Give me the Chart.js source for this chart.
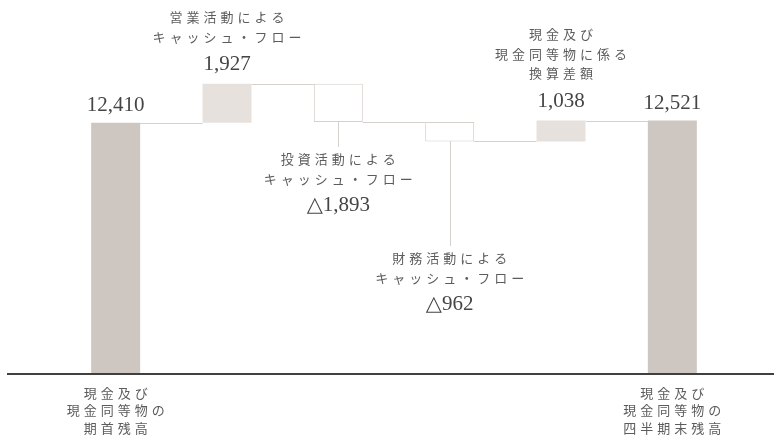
<!DOCTYPE html>
<html lang="ja">
<head>
<meta charset="utf-8">
<title>キャッシュ・フロー</title>
<script src="https://cdn.jsdelivr.net/npm/chart.js@4.4.1/dist/chart.umd.min.js"></script>
<style>
  html, body { margin: 0; padding: 0; background: #fff; }
  #wrap { width: 774px; height: 438px; position: relative; }
</style>
</head>
<body>
<div id="wrap"><canvas id="cfChart"></canvas></div>
<script>
// 単位：百万円
const categories = [
  ['現金及び', '現金同等物の', '期首残高'],
  ['営業活動による', 'キャッシュ・フロー'],
  ['投資活動による', 'キャッシュ・フロー'],
  ['財務活動による', 'キャッシュ・フロー'],
  ['現金及び', '現金同等物に係る', '換算差額'],
  ['現金及び', '現金同等物の', '四半期末残高']
];
const amounts = [12410, 1927, -1893, -962, 1038, 12521];
const amountLabels = ['12,410', '1,927', '△1,893', '△962', '1,038', '12,521'];
const isTotal = [true, false, false, false, false, true];

// 積み上げの開始・終了値を組み立てる
let running = 0;
const ranges = amounts.map((v, i) => {
  if (isTotal[i]) { running = v; return [0, v]; }
  const from = running;
  running += v;
  return [from, running];
});

const TOTAL_FILL = '#cec6c1';
const UP_FILL = '#e6e1dd';
const EDGE = '#d6cfca';
const JP_COLOR = '#5c5c5c';
const NUM_COLOR = '#454545';
const JP_FONT = '13px "Noto Sans CJK JP", "Noto Sans", sans-serif';
const NUM_FONT = '21px "Liberation Serif", "DejaVu Serif", serif';
const leaderLen = [0, 0, 25, 105, 0, 0];

function spacedText(ctx, text, cx, cy, spacing) {
  ctx.letterSpacing = spacing + 'px';
  const w = ctx.measureText(text).width - spacing;
  ctx.fillText(text, cx - w / 2, cy);
  ctx.letterSpacing = '0px';
}

const waterfallPlugin = {
  id: 'waterfall',
  beforeDatasetsDraw(chart) {
    const ctx = chart.ctx;
    const y = chart.scales.y;
    const bars = chart.getDatasetMeta(0).data;
    ctx.save();
    ctx.strokeStyle = EDGE;
    ctx.lineWidth = 1;
    for (let i = 0; i < bars.length - 1; i++) {
      const level = ranges[i][1];
      const py = Math.round(y.getPixelForValue(level)) + 0.5;
      ctx.beginPath();
      ctx.moveTo(bars[i].x + bars[i].width / 2, py);
      ctx.lineTo(bars[i + 1].x - bars[i + 1].width / 2, py);
      ctx.stroke();
    }
    // 減少項目の引き出し線
    bars.forEach((b, i) => {
      if (!leaderLen[i]) return;
      const top = Math.round(y.getPixelForValue(ranges[i][1]));
      const x = Math.round(b.x) + 0.5;
      ctx.beginPath();
      ctx.moveTo(x, top);
      ctx.lineTo(x, top + leaderLen[i]);
      ctx.stroke();
    });
    ctx.restore();
  },
  afterDatasetsDraw(chart) {
    const ctx = chart.ctx;
    const y = chart.scales.y;
    const bars = chart.getDatasetMeta(0).data;
    const base = y.getPixelForValue(0);
    ctx.save();
    // 基準線
    ctx.fillStyle = '#404040';
    ctx.fillRect(7, base, 767, 2);

    ctx.textBaseline = 'middle';
    bars.forEach((b, i) => {
      const topPx = y.getPixelForValue(Math.max(ranges[i][0], ranges[i][1]));
      const botPx = y.getPixelForValue(Math.min(ranges[i][0], ranges[i][1]));
      const lines = categories[i];
      if (isTotal[i]) {
        ctx.font = NUM_FONT;
        ctx.fillStyle = NUM_COLOR;
        spacedText(ctx, amountLabels[i], b.x, topPx - 17, 0);
        ctx.font = JP_FONT;
        ctx.fillStyle = JP_COLOR;
        lines.forEach((t, k) => spacedText(ctx, t, b.x, base + 20 + k * 17.5, 4));
      } else if (amounts[i] > 0) {
        const numY = topPx - 19;
        ctx.font = NUM_FONT;
        ctx.fillStyle = NUM_COLOR;
        spacedText(ctx, amountLabels[i], b.x, numY, 0);
        ctx.font = JP_FONT;
        ctx.fillStyle = JP_COLOR;
        const last = numY - 28;
        lines.forEach((t, k) => spacedText(ctx, t, b.x, last - (lines.length - 1 - k) * 19.5, 4));
      } else {
        const start = botPx + leaderLen[i];
        ctx.font = JP_FONT;
        ctx.fillStyle = JP_COLOR;
        lines.forEach((t, k) => spacedText(ctx, t, b.x, start + 12 + k * 20, 4));
        ctx.font = NUM_FONT;
        ctx.fillStyle = NUM_COLOR;
        spacedText(ctx, amountLabels[i], b.x, start + 58, 0);
      }
    });
    ctx.restore();
  }
};

new Chart(document.getElementById('cfChart'), {
  type: 'bar',
  data: {
    labels: categories.map(c => c.join('')),
    datasets: [{
      data: ranges,
      backgroundColor: amounts.map((v, i) => isTotal[i] ? TOTAL_FILL : (v > 0 ? UP_FILL : '#ffffff')),
      borderColor: EDGE,
      borderWidth: amounts.map((v, i) => (!isTotal[i] && v < 0) ? 1 : 0),
      borderSkipped: false,
      categoryPercentage: 1,
      barPercentage: 0.44
    }]
  },
  options: {
    responsive: true,
    maintainAspectRatio: false,
    animation: false,
    layout: { padding: { left: 60, right: 46, top: 10, bottom: 65 } },
    plugins: {
      legend: { display: false },
      tooltip: { enabled: false }
    },
    scales: {
      x: { display: false },
      y: { display: false, min: 0, max: 18000 }
    }
  },
  plugins: [waterfallPlugin]
});
</script>
</body>
</html>
